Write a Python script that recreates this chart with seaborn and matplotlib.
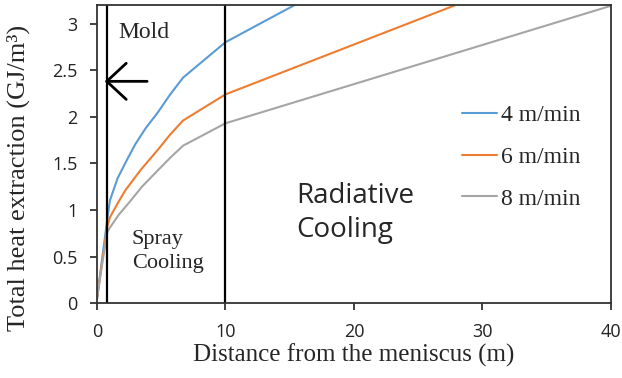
import numpy as np
import matplotlib
matplotlib.use("Agg")
import matplotlib.pyplot as plt
from matplotlib.ticker import FuncFormatter
import seaborn as sns
import pandas as pd

# values
dist_4 = [0, 0.4, 0.8, 1.0, 1.6, 2.3, 3.0, 3.8, 4.7, 5.7, 6.7, 10, 20]
heat_4 = [0.05, 0.48, 0.9, 1.1, 1.34, 1.53, 1.71, 1.88, 2.04, 2.24, 2.42, 2.80, 3.54]
dist_6 = [0, 0.4, 0.8, 1.0, 1.6, 2.2, 3.4, 4.7, 5.7, 6.7, 10, 30]
heat_6 = [0.05, 0.45, 0.82, 0.92, 1.07, 1.21, 1.43, 1.64, 1.81, 1.96, 2.24, 3.31]
dist_8 = [0, 0.4, 0.8, 1.0, 1.7, 2.5, 3.5, 4.7, 5.7, 6.7, 10, 40]
heat_8 = [0.05, 0.42, 0.76, 0.81, 0.95, 1.08, 1.25, 1.42, 1.56, 1.69, 1.93, 3.19]
speeds = ["4 m/min", "6 m/min", "8 m/min"]
colors = ["#5B9BD5", "#ED7D31", "#A5A5A5"]
zone_bounds = [0.8, 10]

df = pd.concat([
    pd.DataFrame({"dist": dist_4, "heat": heat_4, "speed": speeds[0]}),
    pd.DataFrame({"dist": dist_6, "heat": heat_6, "speed": speeds[1]}),
    pd.DataFrame({"dist": dist_8, "heat": heat_8, "speed": speeds[2]}),
])

sns.set_style("ticks")
serif = ["Liberation Serif", "DejaVu Serif"]
sans = ["Open Sans", "DejaVu Sans"]

fig = plt.figure(figsize=(6.22, 3.78), dpi=100)
ax = fig.add_axes([0.156, 0.198, 0.826, 0.789])

sns.lineplot(data=df, x="dist", y="heat", hue="speed", palette=colors,
             linewidth=1.5, ax=ax, sort=False, estimator=None)

for xb in zone_bounds:
    ax.axvline(xb, color="black", lw=1.6)

ax.set_xlim(0, 40)
ax.set_ylim(0, 3.2)
ax.set_xticks([0, 10, 20, 30, 40])
ax.set_yticks(np.arange(0, 3.01, 0.5))
ax.yaxis.set_major_formatter(FuncFormatter(lambda v, p: f"{v:g}"))
for lab in ax.get_xticklabels() + ax.get_yticklabels():
    lab.set_family(sans)
    lab.set_fontsize(13)
ax.tick_params(direction="out", length=5, width=1.2, colors="#222222")
ax.tick_params(axis="x", pad=9)
ax.tick_params(axis="y", pad=9)
for sp in ax.spines.values():
    sp.set_visible(True)
    sp.set_color("#333333")
    sp.set_linewidth(1.3)

ax.set_xlabel("Distance from the meniscus (m)", family=serif, fontsize=18, labelpad=2)
ax.set_ylabel("Total heat extraction (GJ/m³)", family=serif, fontsize=19)
ax.yaxis.set_label_coords(-0.13, 0.42)

ax.text(1.65, 2.9, "Mold", family=serif, fontsize=17, va="center")
ax.text(2.7, 0.55, "Spray\nCooling", family=serif, fontsize=16, va="center",
        linespacing=1.35)
ax.text(15.5, 0.97, "Radiative\nCooling", family=sans, fontsize=20, va="center",
        linespacing=1.3)

ax.annotate("", xy=(0.6, 2.38), xytext=(3.9, 2.38),
            arrowprops=dict(arrowstyle="->,head_length=1.4,head_width=1.3",
                            mutation_scale=10, lw=2, color="black",
                            shrinkA=0, shrinkB=0))

ax.legend(loc="upper left", bbox_to_anchor=(0.71, 0.665), frameon=False,
          prop={"family": serif, "size": 17}, borderpad=0, borderaxespad=0,
          handlelength=1.5, handletextpad=0.15, labelspacing=0.85)

fig.savefig("out.png", dpi=100)
